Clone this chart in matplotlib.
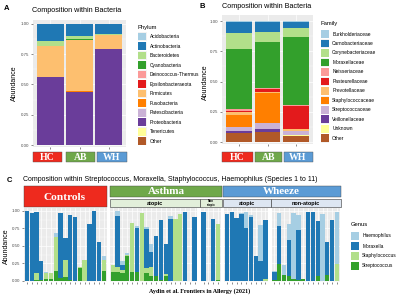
import numpy as np
import matplotlib
matplotlib.use("Agg")
import matplotlib.pyplot as plt
from matplotlib.patches import Rectangle

plt.rcParams['font.family'] = 'Liberation Sans'

W, H = 400, 298

groups = ['HC', 'AB', 'WH']

phylum_names = ['Acidobacteria', 'Actinobacteria', 'Bacteroidetes', 'Cyanobacteria',
                'Deinococcus-Thermus', 'Epsilonbacteraeota', 'Firmicutes', 'Fusobacteria',
                'Patescibacteria', 'Proteobacteria', 'Tenericutes', 'Other']
hc_phylum = [0.003, 0.135, 0.04, 0.002, 0.001, 0.001, 0.255, 0.004, 0.001, 0.555, 0.001, 0.002]
ab_phylum = [0.003, 0.10, 0.025, 0.002, 0.001, 0.001, 0.42, 0.006, 0.001, 0.438, 0.001, 0.002]
wh_phylum = [0.002, 0.08, 0.005, 0.001, 0.001, 0.001, 0.115, 0.003, 0.001, 0.787, 0.001, 0.003]

family_names = ['Burkholderiaceae', 'Carnobacteriaceae', 'Corynebacteriaceae', 'Moraxellaceae',
                'Neisseriaceae', 'Pasteurellaceae', 'Prevotellaceae', 'Staphylococcaceae',
                'Streptococcaceae', 'Veillonellaceae', 'Unknown', 'Other']
hc_family = [0.01, 0.09, 0.13, 0.50, 0.01, 0.015, 0.02, 0.10, 0.035, 0.013, 0.002, 0.075]
ab_family = [0.01, 0.08, 0.08, 0.382, 0.014, 0.02, 0.01, 0.25, 0.045, 0.027, 0.002, 0.08]
wh_family = [0.005, 0.055, 0.07, 0.565, 0.01, 0.19, 0.01, 0.005, 0.03, 0.005, 0.002, 0.053]

genus_names = ['Haemophilus', 'Moraxella', 'Staphylococcus', 'Streptococcus']

# Controls
haem_ctrl = [0, 0, 0, 0, 0.01, 0, 0.06, 0, 0, 0, 0, 0, 0, 0, 0, 0, 0.06]
morax_ctrl = [0.995, 0.966, 0.87, 0.27, 0, 0, 0, 0.93, 0.31, 0.93, 0.91, 0, 0, 0.81, 1.0, 0.555, 0]
staph_ctrl = [0, 0, 0.105, 0, 0.085, 0.075, 0.485, 0, 0.25, 0, 0, 0.02, 0.30, 0, 0, 0, 0.145]
strep_ctrl = [0, 0, 0.005, 0.01, 0.025, 0.03, 0.145, 0.045, 0.05, 0.01, 0, 0.18, 0, 0, 0, 0, 0.145]
# Asthma atopic
haem_aa = [0, 0.07, 0.06, 0.02, 0, 0.03, 0, 0.03, 0.12, 0, 0, 0, 0.04, 0, 0, 0, 0, 0]
morax_aa = [0, 0.74, 0.06, 0, 0, 0.64, 0, 0.55, 0.22, 0.57, 0.86, 0.43, 0.89, 0, 0, 0.98, 0, 0.92]
staph_aa = [0.105, 0.07, 0.05, 0.02, 0.70, 0, 0.97, 0.07, 0.13, 0, 0, 0.03, 0, 0.88, 0.95, 0, 0, 0]
strep_aa = [0.12, 0.12, 0.11, 0.355, 0.13, 0.12, 0, 0.115, 0.06, 0.07, 0.01, 0.07, 0, 0, 0, 0, 0, 0]
# Asthma non atopic
haem_an = [0, 0, 0, 0]
morax_an = [0.98, 0, 0.88, 0]
staph_an = [0, 0, 0, 0.81]
strep_an = [0, 0, 0, 0.01]
# Wheeze atopic
haem_wa = [0, 0, 0, 0.02, 0.23, 0.03, 0, 0.52, 0]
morax_wa = [0.957, 0.98, 0.90, 0.956, 0.75, 0.91, 0.36, 0.28, 0.84]
staph_wa = [0, 0, 0, 0, 0, 0, 0, 0, 0.03]
strep_wa = [0, 0, 0, 0, 0, 0, 0, 0, 0]
# Wheeze non-atopic
haem_wn = [0.01, 0.18, 0.145, 0.24, 0.95, 0.21, 0, 0, 0, 0, 0.96, 0, 0, 0.755]
morax_wn = [0.12, 0.55, 0, 0.51, 0, 0.72, 0, 0.99, 0.98, 0.79, 0, 0.47, 0.87, 0]
staph_wn = [0, 0, 0, 0, 0, 0, 0.01, 0, 0, 0, 0, 0, 0, 0.235]
strep_wn = [0.01, 0.235, 0.08, 0.067, 0.02, 0.01, 0.02, 0, 0, 0.07, 0, 0.08, 0, 0]

paired = ['#A6CEE3', '#1F78B4', '#B2DF8A', '#33A02C', '#FB9A99', '#E31A1C',
          '#FDBF6F', '#FF7F00', '#CAB2D6', '#6A3D9A', '#FFFF99', '#B15928']
group_cols = ['#EE2A1E', '#6FA84A', '#5B9BD5']
SERIF = 'Liberation Serif'

fig = plt.figure(figsize=(4, 2.98), dpi=100)


def px_axes(x0, y0, x1, y1):
    return fig.add_axes([x0 / W, 1 - y1 / H, (x1 - x0) / W, (y1 - y0) / H])


def px_rect(x0, y0, x1, y1, fc, ec='none', lw=0.0):
    fig.patches.append(Rectangle((x0 / W, 1 - y1 / H), (x1 - x0) / W, (y1 - y0) / H,
                                 transform=fig.transFigure, fc=fc, ec=ec, lw=lw))


def px_text(x, y, s, **kw):
    fig.text(x / W, 1 - y / H, s, **kw)


def gg_style(ax, ylim, n, ylabels=True):
    ax.set_facecolor('#EBEBEB')
    for sp in ax.spines.values():
        sp.set_visible(False)
    ax.set_xlim(-0.6, n - 0.4)
    ax.set_ylim(*ylim)
    ax.set_xticks(np.arange(n))
    ax.set_xticklabels([])
    ax.set_yticks([0, 0.25, 0.5, 0.75, 1.0])
    ax.set_yticks([0.125, 0.375, 0.625, 0.875], minor=True)
    ax.set_yticklabels(['0.00', '0.25', '0.50', '0.75', '1.00'] if ylabels else [])
    ax.grid(True, which='major', color='white', lw=0.5)
    ax.grid(True, which='minor', axis='y', color='white', lw=0.25)
    ax.set_axisbelow(True)
    ax.tick_params(which='major', length=1.5, width=0.4, color='#333333',
                   labelsize=3.2, labelcolor='#4D4D4D', pad=1.2)
    ax.tick_params(which='minor', length=0)
    if not ylabels:
        ax.tick_params(axis='y', length=0)


def stacked(ax, table, colors, width=0.9):
    table = np.asarray(table, dtype=float)
    x = np.arange(table.shape[1])
    bottom = np.zeros(table.shape[1])
    for row, col in zip(table[::-1], colors[::-1]):
        ax.bar(x, row, width, bottom=bottom, color=col, linewidth=0)
        bottom += row


def legend_block(x, y_title, title, labels, colors, y0, dy, key=8.5):
    px_text(x, y_title, title, fontsize=4.2, ha='left', va='center')
    for i, (lab, col) in enumerate(zip(labels, colors)):
        yc = y0 + i * dy
        px_rect(x, yc - key / 2, x + key, yc + key / 2, '#F2F2F2')
        px_rect(x + 0.4, yc - key / 2 + 0.4, x + key - 0.4, yc + key / 2 - 0.4, col)
        px_text(x + key + 3, yc, lab, fontsize=3.5, ha='left', va='center')


def group_boxes(spans, y0, y1):
    for (a, b), g, c in zip(spans, groups, group_cols):
        px_rect(a, y0, b, y1, c, ec='#555555', lw=0.3)
        px_text((a + b) / 2, (y0 + y1) / 2 + 0.3, g, fontsize=7, color='white',
                fontweight='bold', family=SERIF, ha='center', va='center')


# ---- Panel A
axA = px_axes(33, 20, 126, 147)
stacked(axA, np.array([hc_phylum, ab_phylum, wh_phylum]).T, paired)
gg_style(axA, (-0.0165, 1.033), 3)
px_text(4, 8, 'A', fontsize=5.5, fontweight='bold', va='center')
px_text(32, 11, 'Composition within Bacteria', fontsize=5.2, va='center')
px_text(14.5, 83, 'Abundance', fontsize=5, rotation=90, ha='center', va='center')
legend_block(138, 27, 'Phylum', phylum_names, paired, 36.5, 9.52)
group_boxes([(32.5, 62), (66, 94.5), (97, 126.5)], 152, 162)

# ---- Panel B
axB = px_axes(222, 15, 313, 144)
stacked(axB, np.array([hc_family, ab_family, wh_family]).T, paired)
gg_style(axB, (-0.0165, 1.0496), 3)
px_text(199, 7, 'B', fontsize=5.5, fontweight='bold', va='center')
px_text(222, 7, 'Composition within Bacteria', fontsize=5.2, va='center')
px_text(205.5, 82, 'Abundance', fontsize=5, rotation=90, ha='center', va='center')
legend_block(320.7, 23.3, 'Family', family_names, paired, 34, 9.48)
group_boxes([(222, 253), (255, 282), (283.5, 312.5)], 152, 161.5)

# ---- Panel C
gen_cols = paired[:4]
panels = [
    (haem_ctrl, morax_ctrl, staph_ctrl, strep_ctrl),
    (haem_aa, morax_aa, staph_aa, strep_aa),
    (haem_an, morax_an, staph_an, strep_an),
    (haem_wa, morax_wa, staph_wa, strep_wa),
    (haem_wn, morax_wn, staph_wn, strep_wn),
]
unit, gap, xc = 4.81, 3.2, 24.0
for k, p in enumerate(panels):
    n = len(p[0])
    x1 = xc + (n + 0.2) * unit
    ax = px_axes(xc, 208, x1, 282)
    stacked(ax, p, gen_cols)
    gg_style(ax, (-0.019, 1.043), n, ylabels=(k == 0))
    xc = x1 + gap

px_text(7, 181, 'C', fontsize=5.5, fontweight='bold', va='center')
px_text(23, 179.5, 'Composition within Streptococcus, Moraxella, Staphylococcus, Haemophilus (Species 1 to 11)',
        fontsize=5, va='center')
px_text(6, 246, 'Abundance', fontsize=5, rotation=90, ha='center', va='center')

# facet strips
px_rect(23.5, 186, 107, 207, group_cols[0], ec='#444444', lw=0.3)
px_text(65, 197, 'Controls', fontsize=8.2, color='white', fontweight='bold', family=SERIF,
        ha='center', va='center')
px_rect(110, 186, 222.4, 197, group_cols[1], ec='#444444', lw=0.3)
px_text(166, 191.8, 'Asthma', fontsize=8, color='white', fontweight='bold', family=SERIF,
        ha='center', va='center')
px_rect(222.6, 186, 340.5, 197, group_cols[2], ec='#444444', lw=0.3)
px_text(281.5, 191.8, 'Wheeze', fontsize=8, color='white', fontweight='bold', family=SERIF,
        ha='center', va='center')
subs = [(110, 199.6, 'atopic', '#E2EFDA', 4), (199.8, 222.4, 'Non\natopic', '#E2EFDA', 2.2),
        (222.6, 271, 'atopic', '#DDE6F2', 4), (271.2, 340.5, 'non-atopic', '#DDE6F2', 4)]
for a, b, lab, fc, fs in subs:
    px_rect(a, 199, b, 207, fc, ec='#333333', lw=0.4)
    px_text((a + b) / 2, 203.2, lab, fontsize=fs, fontweight='bold', ha='center', va='center',
            linespacing=0.9)

legend_block(350.7, 225, 'Genus', genus_names, gen_cols, 236, 10)

px_text(200, 291.5, 'Aydin et al. Frontiers in Allergy (2021)', fontsize=4.4, fontweight='bold',
        family=SERIF, ha='center', va='center')

fig.savefig('out.png', dpi=100)
